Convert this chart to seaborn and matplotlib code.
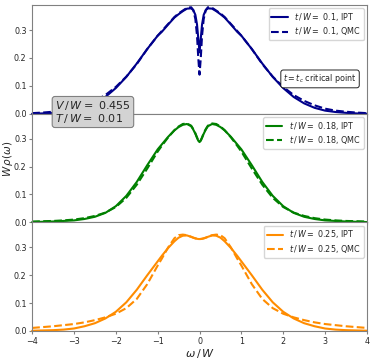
import numpy as np
import pandas as pd
import matplotlib
matplotlib.use("Agg")
import matplotlib.pyplot as plt
import seaborn as sns

# half grid (omega >= 0), curves are mirrored to omega < 0
omega_half = [0, 0.03, 0.06, 0.1, 0.15, 0.2, 0.3, 0.4, 0.5, 0.6, 0.75, 0.9, 1.0,
              1.25, 1.5, 1.75, 2.0, 2.25, 2.5, 2.75, 3.0, 3.25, 3.5, 3.75, 4.0]

ipt_010 = [0.22, 0.27, 0.32, 0.355, 0.372, 0.378, 0.377, 0.368, 0.357, 0.345, 0.32, 0.294, 0.28,
           0.232, 0.18, 0.132, 0.092, 0.06, 0.037, 0.021, 0.011, 0.006, 0.003, 0.001, 0.0]
qmc_010 = [0.14, 0.2, 0.28, 0.34, 0.372, 0.382, 0.38, 0.37, 0.36, 0.347, 0.322, 0.297, 0.28,
           0.232, 0.178, 0.133, 0.096, 0.067, 0.046, 0.03, 0.018, 0.011, 0.007, 0.004, 0.002]

ipt_018 = [0.288, 0.293, 0.303, 0.318, 0.333, 0.345, 0.353, 0.35, 0.342, 0.33, 0.307, 0.28, 0.262,
           0.205, 0.145, 0.095, 0.058, 0.034, 0.02, 0.012, 0.007, 0.005, 0.003, 0.002, 0.001]
qmc_018 = [0.29, 0.295, 0.305, 0.32, 0.335, 0.347, 0.355, 0.353, 0.344, 0.331, 0.305, 0.275, 0.254,
           0.193, 0.135, 0.088, 0.055, 0.035, 0.023, 0.015, 0.01, 0.007, 0.005, 0.004, 0.003]

ipt_025 = [0.33, 0.3302, 0.331, 0.332, 0.335, 0.338, 0.343, 0.342, 0.335, 0.322, 0.298, 0.27, 0.25,
           0.2, 0.148, 0.103, 0.069, 0.045, 0.028, 0.017, 0.009, 0.005, 0.003, 0.002, 0.001]
qmc_025 = [0.33, 0.3305, 0.331, 0.333, 0.335, 0.338, 0.344, 0.346, 0.344, 0.333, 0.3, 0.26, 0.235,
           0.168, 0.115, 0.082, 0.062, 0.049, 0.039, 0.031, 0.025, 0.021, 0.017, 0.014, 0.011]

t_values = ["0.1", "0.18", "0.25"]
colors = ["darkblue", "green", "darkorange"]


def mirror(vals):
    vals = list(vals)
    return vals[:0:-1] + vals


omega = [-w for w in omega_half[:0:-1]] + omega_half
series = [(ipt_010, qmc_010), (ipt_018, qmc_018), (ipt_025, qmc_025)]

sns.set_style("white", {"axes.edgecolor": "grey"})
plt.rcParams["font.family"] = ["DejaVu Sans"]

fig, axes = plt.subplots(3, 1, figsize=(3.74, 3.59), dpi=100, sharex=True)
fig.subplots_adjust(left=0.086, right=0.981, bottom=0.078, top=0.986, hspace=0)

for ax, t, col, (ipt, qmc) in zip(axes, t_values, colors, series):
    df = pd.DataFrame({"omega": omega, "IPT": mirror(ipt), "QMC": mirror(qmc)})
    sns.lineplot(data=df, x="omega", y="IPT", ax=ax, color=col, lw=1.5,
                 label=r"$t\,/\,W = $ " + t + ", IPT", clip_on=False)
    sns.lineplot(data=df, x="omega", y="QMC", ax=ax, color=col, lw=1.5, ls="--",
                 label=r"$t\,/\,W = $ " + t + ", QMC", clip_on=False)
    ax.set_xlim(-4, 4)
    ax.set_ylim(0, 0.39)
    ax.set_yticks([0, 0.1, 0.2, 0.3])
    ax.set_xlabel("")
    ax.set_ylabel("")
    ax.tick_params(labelsize=5.8, length=2.5, width=0.8, color="grey", pad=1.5,
                   left=True, bottom=True)
    ax.legend(loc="upper right", fontsize=5.8, frameon=True, borderaxespad=0.4,
              labelspacing=0.3, borderpad=0.35)

axes[0].text(0.86, 0.32, r"$t = t_c$ critical point", transform=axes[0].transAxes,
             ha="center", va="center", fontsize=5.8,
             bbox=dict(boxstyle="round,pad=0.3", fc="white", ec="black", lw=0.6))

fig.text(0.147, 0.688, r"$V\,/\,W = $ 0.455" + "\n" + r"$T\,/\,W = $ 0.01",
         ha="left", va="center", fontsize=8, linespacing=0.95, zorder=10,
         bbox=dict(boxstyle="round,pad=0.25", fc="lightgrey", ec="grey", lw=0.8))

fig.text(0.535, 1 - 353 / 359, r"$\omega\,/\,W$", ha="center", va="center", fontsize=8)
fig.text(0.022, 1 - 159 / 359, r"$W\,\rho(\omega)$", rotation=90, ha="center", va="center",
         fontsize=7.5)

fig.savefig("out.png", dpi=100)
